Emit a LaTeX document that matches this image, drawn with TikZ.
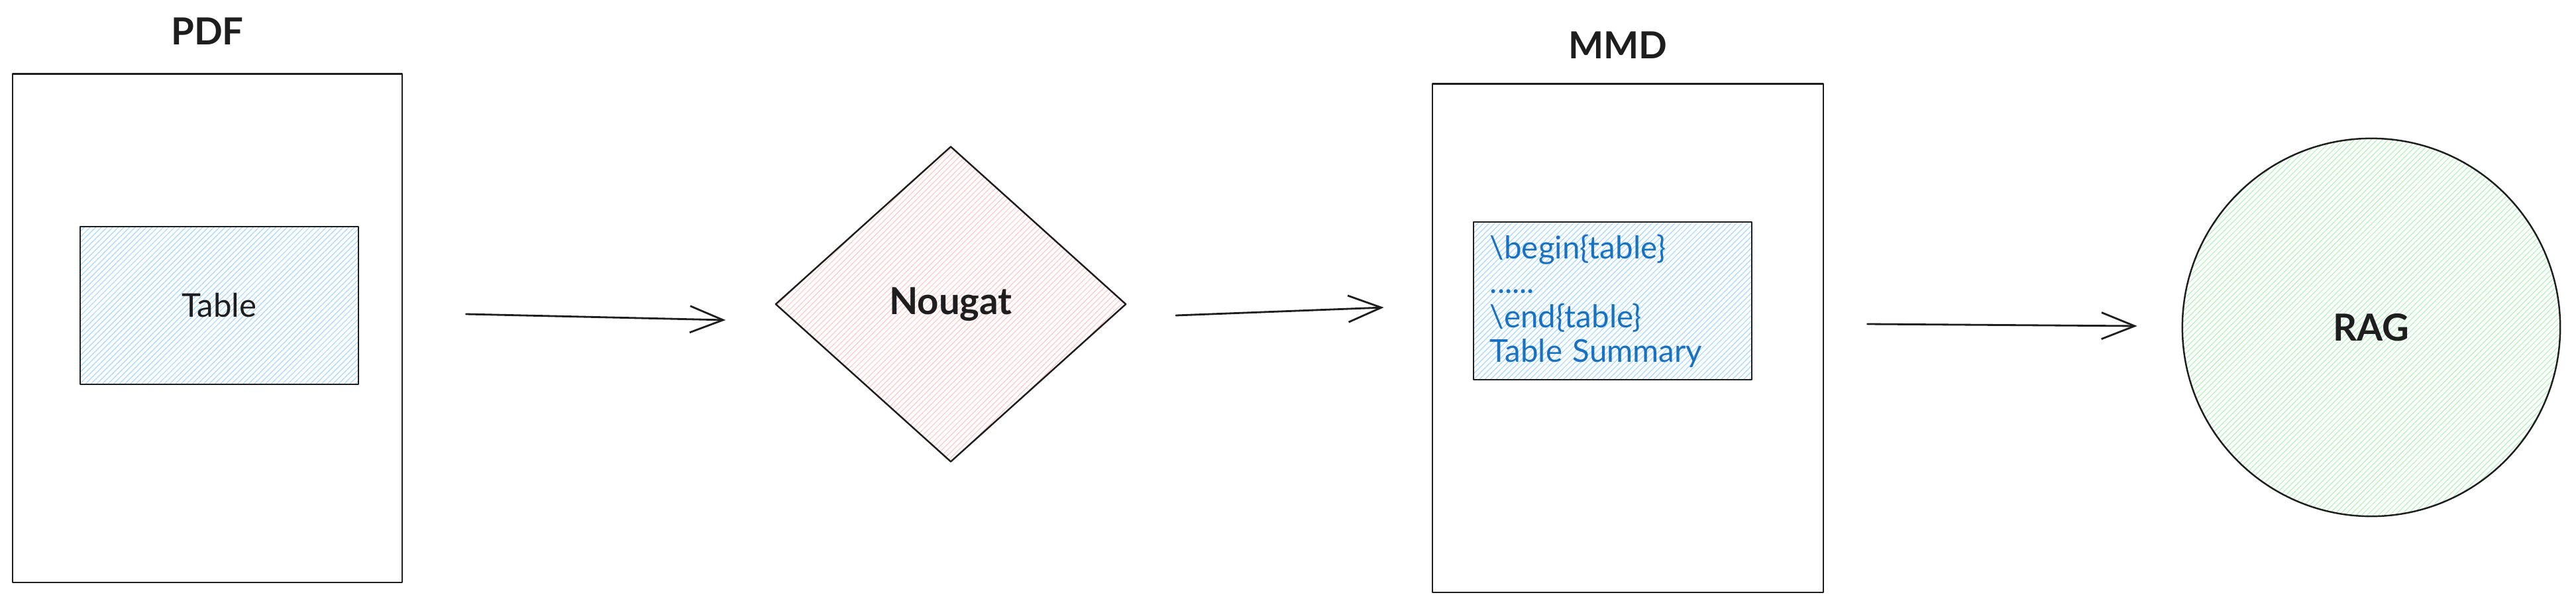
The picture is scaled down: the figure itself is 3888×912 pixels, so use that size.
\documentclass[tikz,border=0pt]{standalone}
\usepackage{fontspec}
\setmainfont{Lato}
\usepackage{xcolor}
\usepackage{tikz}
\usetikzlibrary{calc,positioning,arrows.meta,shapes.geometric,patterns.meta}
\definecolor{ink}{HTML}{1E1E1E}
\definecolor{codeblue}{HTML}{1971C2}
\definecolor{hatchblue}{HTML}{A5D8FF}
\definecolor{hatchpink}{HTML}{FFC9C9}
\definecolor{hatchgreen}{HTML}{B2F2BB}
\tikzset{
  edge/.style={draw=ink, line width=0.7pt, line join=round},
  hatch/.style={pattern={Lines[angle=45,distance=0.06cm,line width=0.012cm]}, pattern color=#1},
  page/.style={edge, rectangle, inner sep=0pt, minimum width=5.88cm, minimum height=7.67cm},
  inbox/.style={edge, rectangle, hatch=hatchblue, inner sep=0pt, minimum width=4.2cm, minimum height=2.38cm},
  title/.style={text=ink, inner sep=0pt, font=\fontsize{16}{18}\selectfont\bfseries},
  lab/.style={text=ink, font=\fontsize{14}{16}\selectfont},
  code/.style={text=codeblue, font=\fontsize{13.5}{14.8}\selectfont},
  flow/.style={draw=ink, line width=0.8pt, line cap=round, -{Straight Barb[length=0.5cm,width=0.4cm,line width=0.8pt]}},
}

\begin{document}
\begin{tikzpicture}[x=0.01cm, y=-0.01cm]
  \useasboundingbox (0,0) rectangle (3888,912);
  % source side
  \node[page] (pdf) at (313,495) {};
  \node[title, above=0.42cm of pdf] (pdftitle) {PDF};
  \node[inbox, lab] (table) at (331,461) {Table};
  % model
  \node[edge, diamond, hatch=hatchpink, inner sep=0pt, minimum width=5.29cm, minimum height=4.76cm,
        title] (nougat) at (1435,459) {Nougat};
  % output side
  \node[page, minimum width=5.9cm] (mmd) at (2457,510) {};
  \node[title, above=0.36cm of mmd, xshift=-0.15cm] (mmdtitle) {MMD};
  \node[inbox, code, align=left, text width=3.7cm, inner xsep=0.25cm] (mmdtable) at (2434,454)
    {\textbackslash begin\{table\}\\......\\\textbackslash end\{table\}\\Table Summary};
  \node[edge, circle, hatch=hatchgreen, inner sep=0pt, minimum size=5.7cm, title] (rag) at (3579,494) {RAG};
  % arrows
  \draw[flow] ($(pdf.east)+(95,-21)$) -- ($(nougat.west)+(-74,24)$);
  \draw[flow] ($(nougat.east)+(74,17)$) -- ($(mmd.west)+(-72,-46)$);
  \draw[flow] ($(mmd.east)+(65,-21)$) -- ($(rag.west)+(-67,-2)$);
\end{tikzpicture}
\end{document}
